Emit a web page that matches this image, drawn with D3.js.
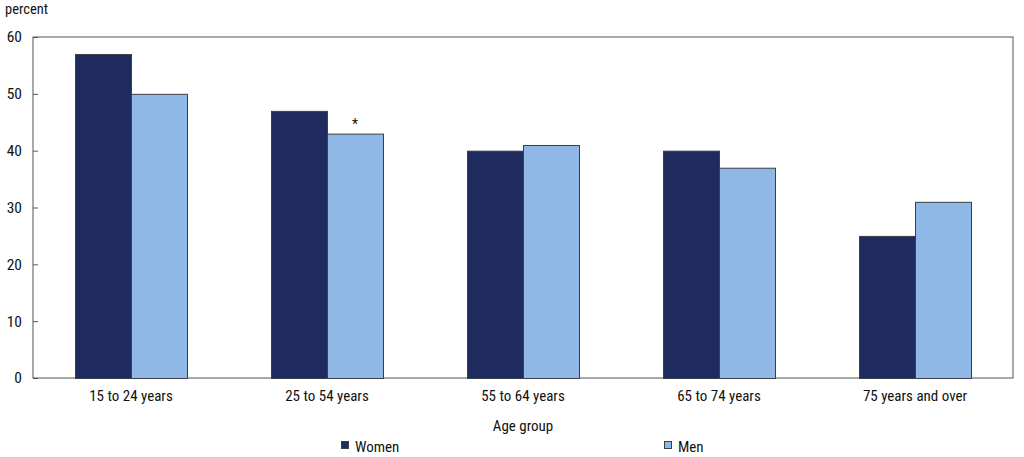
<!DOCTYPE html>
<html><head><meta charset="utf-8">
<script src="https://cdn.jsdelivr.net/npm/d3@7"></script>
<style>
body{margin:0;background:#fff;}
text{font-family:"Liberation Sans Narrow","Arial Narrow","Roboto Condensed",sans-serif;fill:#111;}
</style></head><body>
<svg id="c" width="1024" height="457"></svg>
<script>
const categories = ["15 to 24 years","25 to 54 years","55 to 64 years","65 to 74 years","75 years and over"];
const seriesNames = ["Women","Men"];
const women = [57,47,40,40,25];
const men = [50,43,41,37,31];
const flags = [["",""],["","*"],["",""],["",""],["",""]];
const yTicks = [0,10,20,30,40,50,60];
const colors = ["#1f2a5e","#8fb8e6"];

const svg = d3.select("#c");
const m = {l:33, r:1013, t:37, b:378};
const x = d3.scaleBand().domain(categories).range([m.l,m.r]).paddingInner(0).paddingOuter(0);
const y = d3.scaleLinear().domain([0,60]).range([m.b,m.t]);
const barW = 56;

// frame
svg.append("rect").attr("x",m.l).attr("y",m.t).attr("width",m.r-m.l).attr("height",m.b-m.t)
  .attr("fill","none").attr("stroke","#555").attr("stroke-width",1);

// y axis
const yAxis = d3.axisLeft(y).tickValues(yTicks).tickSize(-5).tickPadding(11).tickFormat(d3.format("d"));
const ga = svg.append("g").attr("transform",`translate(${m.l},0)`).call(yAxis);
ga.select(".domain").remove();
ga.selectAll("line").attr("stroke","#555");
ga.selectAll("text").style("font-size","15.5px").attr("fill","#111");

// bars
const data = categories.map((c,i)=>({c, vals:[women[i],men[i]], flags:flags[i]}));
const g = svg.append("g");
data.forEach(d=>{
  const cx = x(d.c)+x.bandwidth()/2;
  d.vals.forEach((v,j)=>{
    const bx = cx + (j-1)*barW;
    g.append("rect").attr("x",bx+0.5).attr("y",y(v)+0.5).attr("width",barW).attr("height",y(0)-y(v))
      .attr("fill",colors[j]).attr("stroke","#3a3f4a").attr("stroke-width",1);
    if(d.flags[j]) g.append("text").attr("x",bx+barW/2).attr("y",y(v)-5).attr("text-anchor","middle")
      .style("font-size","14px").text(d.flags[j]);
  });
});

// x labels
const xAxis = d3.axisBottom(x).tickSize(0).tickPadding(12);
const gx = svg.append("g").attr("transform",`translate(0,${m.b})`).call(xAxis);
gx.select(".domain").remove();
gx.selectAll("text").style("font-size","15px").attr("fill","#111");

// axis title
svg.append("text").attr("x",(m.l+m.r)/2).attr("y",431).attr("text-anchor","middle").style("font-size","15px").text("Age group");
svg.append("text").attr("x",5).attr("y",14).style("font-size","14.5px").text("percent");

// legend
const legX = [341,664];
seriesNames.forEach((n,i)=>{
  svg.append("rect").attr("x",legX[i]+0.5).attr("y",441.5).attr("width",7).attr("height",7)
    .attr("fill",colors[i]).attr("stroke","#3a3f4a");
  svg.append("text").attr("x",legX[i]+14).attr("y",452).style("font-size","15px").text(n);
});
</script></body></html>
